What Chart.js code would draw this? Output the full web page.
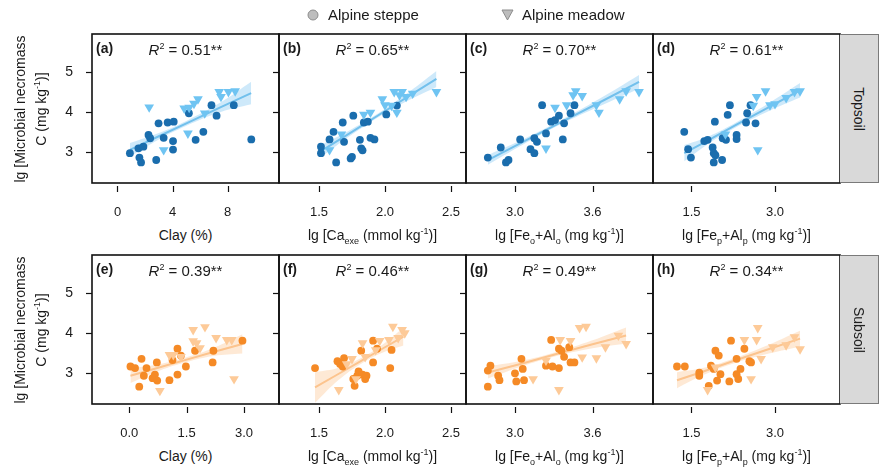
<!DOCTYPE html>
<html>
<head>
<meta charset="utf-8">
<script src="https://cdn.jsdelivr.net/npm/chart.js@4.4.0/dist/chart.umd.min.js"></script>
<style>
  body { margin: 0; background: #fff; font-family: "Liberation Sans", Arial, sans-serif; color: #1a1a1a; }
  #wrap { position: relative; width: 883px; height: 470px; overflow: hidden; }
  canvas { position: absolute; }
  .t { position: absolute; white-space: nowrap; font-size: 14px; line-height: 16px; }
  .t sub, .t sup { font-size: 9px; line-height: 0; }
  .letter { font-weight: bold; }
  .r2 { text-align: center; font-size: 15px; }
  .xt { text-align: center; }
  .ytitle { position: absolute; white-space: nowrap; font-size: 14px; line-height: 21px; text-align: center;
            transform: translate(-50%, -50%) rotate(-90deg); }
  .strip { position: absolute; background: #d9d9d9; border: 1px solid #7a7a7a; border-left: none; box-sizing: border-box; }
  .strip span { position: absolute; left: 50%; top: 50%; transform: translate(-50%, -50%) rotate(90deg); font-size: 14px; white-space: nowrap; }
</style>
</head>
<body>
<div id="wrap"></div>
<script>
// ---- data ----
// topsoil: x = clay (%), lg Ca_exe, lg (Feo+Alo), lg (Fep+Alp); y = lg microbial necromass C
const clayTopSteppe = [[0.90,2.98],[1.59,2.87],[1.71,2.75],[1.52,3.10],[1.88,3.14],[2.25,3.43],[2.37,3.35],[2.81,2.81],[2.98,3.72],[3.35,3.36],[3.64,3.74],[4.08,3.76],[4.03,3.28],[4.03,3.07],[5.18,3.97],[5.67,3.31],[6.23,3.51],[6.82,4.17],[7.19,3.91],[8.44,4.17],[9.71,3.32]];
const clayTopMeadow = [[2.30,4.12],[3.35,3.06],[5.11,3.47],[4.84,4.09],[5.20,4.11],[5.55,4.21],[5.84,4.32],[6.33,3.97],[7.38,4.50],[7.51,4.38],[8.05,4.50],[8.54,4.52]];
const caTopSteppe = [[1.515,3.14],[1.515,2.98],[1.58,3.32],[1.61,3.51],[1.63,2.75],[1.68,3.74],[1.69,3.26],[1.74,2.85],[1.75,2.89],[1.76,3.91],[1.81,3.31],[1.82,3.10],[1.83,3.05],[1.84,3.74],[1.87,3.76],[1.89,3.36],[1.92,3.32],[2.01,3.94],[2.09,4.16]];
const caTopMeadow = [[1.58,3.06],[1.67,3.45],[1.84,3.94],[1.89,3.99],[1.98,4.32],[2.00,4.17],[2.05,4.16],[2.07,4.50],[2.11,4.42],[2.13,4.50],[2.09,3.99],[2.16,4.38],[2.21,4.46],[2.39,4.50]];
const feoTopSteppe = [[2.79,2.87],[2.89,3.12],[2.93,2.75],[2.95,2.81],[3.04,3.32],[3.12,3.08],[3.15,2.98],[3.15,3.35],[3.17,3.26],[3.21,4.17],[3.24,3.47],[3.28,3.76],[3.31,3.80],[3.34,3.91],[3.37,3.32],[3.38,3.72],[3.43,3.97],[3.46,4.17]];
const feoTopMeadow = [[3.24,3.10],[3.31,4.11],[3.40,4.17],[3.45,4.42],[3.47,4.52],[3.52,4.40],[3.63,4.17],[3.65,3.99],[3.81,4.32],[3.86,4.52],[3.96,4.50]];
const fepTopSteppe = [[1.37,3.51],[1.44,3.08],[1.49,2.87],[1.73,3.28],[1.79,3.31],[1.88,3.12],[1.90,2.98],[1.92,3.76],[1.93,2.93],[1.90,2.75],[2.05,2.81],[2.06,3.35],[2.12,3.31],[2.15,3.93],[2.19,4.17],[2.31,3.43],[2.31,3.33],[2.48,3.74],[2.50,3.97],[2.56,4.17],[2.65,3.72]];
const fepTopMeadow = [[2.11,3.45],[2.61,4.16],[2.67,4.38],[2.83,4.52],[2.69,3.06],[2.91,4.17],[3.00,4.20],[3.20,4.35],[3.35,4.50],[3.45,4.52]];

// subsoil
const claySubSteppe = [[0.03,3.17],[0.15,3.13],[0.32,3.36],[0.26,2.67],[0.45,3.13],[0.38,2.94],[0.61,2.88],[0.67,2.97],[0.72,3.27],[0.73,2.82],[1.05,2.83],[1.13,3.33],[1.26,2.97],[1.26,3.61],[1.35,3.44],[1.48,3.17],[1.72,3.56],[2.18,3.27],[2.20,3.56],[2.96,3.81]];
const claySubMeadow = [[0.80,2.57],[1.05,3.46],[1.15,3.46],[1.35,3.41],[1.67,4.08],[1.67,3.80],[1.76,3.75],[1.85,3.63],[1.98,4.15],[2.27,3.88],[2.55,3.83],[2.68,3.83],[2.74,2.86]];
const caSubSteppe = [[1.47,3.13],[1.64,3.30],[1.66,3.23],[1.68,3.17],[1.69,3.38],[1.76,2.86],[1.77,2.69],[1.79,2.94],[1.80,3.05],[1.82,3.56],[1.83,2.97],[1.85,2.86],[1.86,2.94],[1.91,3.81],[1.91,3.27],[1.94,3.61],[2.04,3.13],[2.05,3.58]];
const caSubMeadow = [[1.65,2.59],[1.71,3.23],[1.75,3.36],[1.78,2.86],[1.83,3.75],[1.85,3.41],[1.93,3.58],[1.96,3.81],[2.03,3.83],[2.06,4.16],[2.10,3.88],[2.13,4.08],[2.15,4.00]];
const feoSubSteppe = [[2.79,2.67],[2.79,3.07],[2.81,3.19],[2.87,2.94],[2.88,2.83],[3.00,3.00],[3.01,2.80],[3.05,3.36],[3.07,2.83],[3.06,3.11],[3.24,3.19],[3.29,3.17],[3.28,3.83],[3.34,3.61],[3.34,3.13],[3.36,3.56],[3.38,3.41],[3.43,3.27],[3.42,3.65],[3.46,3.27]];
const feoSubMeadow = [[3.14,2.86],[3.24,3.32],[3.34,2.59],[3.35,3.83],[3.43,3.81],[3.50,4.13],[3.55,4.16],[3.52,3.40],[3.63,3.38],[3.70,3.65],[3.80,3.94],[3.86,3.73]];
const fepSubSteppe = [[1.24,3.17],[1.38,3.17],[1.64,3.02],[1.64,2.94],[1.81,2.69],[1.85,3.19],[1.90,3.11],[1.93,3.56],[1.96,2.82],[1.99,3.44],[2.02,2.98],[2.18,2.80],[2.21,3.81],[2.31,3.36],[2.31,2.98],[2.34,2.86],[2.38,3.11],[2.45,3.61],[2.54,3.30],[2.57,3.27]];
const fepSubMeadow = [[1.79,2.59],[1.93,3.15],[2.45,3.83],[2.57,2.86],[2.67,3.83],[2.69,4.13],[2.75,3.36],[2.96,3.65],[3.20,3.70],[3.35,3.90],[3.45,3.60]];

// fitted lines with 95% band: [x, lower, fit, upper]
const bandA = [[0.9,2.89,3.06,3.23],[3.0,3.32,3.40,3.48],[5.0,3.66,3.72,3.78],[7.5,4.00,4.12,4.24],[9.7,4.19,4.47,4.75]];
const bandB = [[1.515,2.88,3.03,3.18],[1.75,3.44,3.51,3.58],[1.95,3.87,3.92,3.97],[2.15,4.24,4.33,4.42],[2.39,4.62,4.82,5.02]];
const bandC = [[2.79,2.69,2.81,2.93],[3.1,3.26,3.32,3.38],[3.35,3.69,3.74,3.79],[3.65,4.14,4.23,4.32],[3.96,4.58,4.75,4.92]];
const bandD = [[1.37,2.78,2.98,3.18],[1.8,3.21,3.30,3.39],[2.3,3.62,3.68,3.74],[2.9,4.03,4.13,4.23],[3.45,4.36,4.54,4.72]];
const bandE = [[0.03,2.76,2.94,3.12],[0.8,3.07,3.15,3.23],[1.5,3.28,3.34,3.40],[2.2,3.43,3.53,3.63],[2.96,3.49,3.73,3.97]];
const bandF = [[1.47,2.27,2.65,3.03],[1.65,2.84,2.99,3.14],[1.82,3.24,3.31,3.38],[1.98,3.51,3.61,3.71],[2.14,3.69,3.91,4.13]];
const bandG = [[2.79,2.87,3.02,3.17],[3.05,3.17,3.24,3.31],[3.3,3.41,3.46,3.51],[3.6,3.62,3.72,3.82],[3.86,3.74,3.94,4.14]];
const bandH = [[1.24,2.63,2.83,3.03],[1.7,2.95,3.04,3.13],[2.2,3.22,3.28,3.34],[2.8,3.46,3.56,3.66],[3.45,3.66,3.86,4.06]];

const panelLetters = ['(a)', '(b)', '(c)', '(d)', '(e)', '(f)', '(g)', '(h)'];
const r2Values = ['0.51', '0.65', '0.70', '0.61', '0.39', '0.46', '0.49', '0.34'];
const xTickValues = [[0, 4, 8], [1.5, 2.0, 2.5], [3.0, 3.6], [1.5, 3.0], [0.0, 1.5, 3.0], [1.5, 2.0, 2.5], [3.0, 3.6], [1.5, 3.0]];
const xTickLabels = [['0', '4', '8'], ['1.5', '2.0', '2.5'], ['3.0', '3.6'], ['1.5', '3.0'], ['0.0', '1.5', '3.0'], ['1.5', '2.0', '2.5'], ['3.0', '3.6'], ['1.5', '3.0']];
const xLimits = [[-1.85, 11.72], [1.197, 2.614], [2.621, 4.068], [0.809, 4.167], [-0.976, 3.916], [1.197, 2.614], [2.621, 4.068], [0.809, 4.167]];
const yTickValues = [3, 4, 5];
const yLimits = [2.24, 5.935];
const xTitles = [
  'Clay (%)',
  'lg [Ca<sub>exe</sub> (mmol kg<sup>-1</sup>)]',
  'lg [Fe<sub>o</sub>+Al<sub>o</sub> (mg kg<sup>-1</sup>)]',
  'lg [Fe<sub>p</sub>+Al<sub>p</sub> (mg kg<sup>-1</sup>)]'
];
const rowNames = ['Topsoil', 'Subsoil'];

const steppeSets = [clayTopSteppe, caTopSteppe, feoTopSteppe, fepTopSteppe, claySubSteppe, caSubSteppe, feoSubSteppe, fepSubSteppe];
const meadowSets = [clayTopMeadow, caTopMeadow, feoTopMeadow, fepTopMeadow, claySubMeadow, caSubMeadow, feoSubMeadow, fepSubMeadow];
const bands = [bandA, bandB, bandC, bandD, bandE, bandF, bandG, bandH];

// ---- layout / style ----
const colLeft = [92, 279, 466, 653];
const colW = 187;
const rowTop = [34, 255];
const rowH = 149;
const AXW = 45, AXH = 40, PAD = 4;
const palette = [
  { steppe: '#1a6dad', meadow: '#6fc4f2', line: '#72c0ec', band: 'rgba(125,198,242,0.38)' },
  { steppe: '#f58a26', meadow: '#fdca98', line: '#fcc48e', band: 'rgba(253,203,155,0.42)' }
];
const tickFont = { family: 'Liberation Sans, Arial, sans-serif', size: 13 };

const wrap = document.getElementById('wrap');
function addText(cls, html, css) {
  const d = document.createElement('div');
  d.className = cls;
  d.innerHTML = html;
  Object.assign(d.style, css);
  wrap.appendChild(d);
  return d;
}

// frame + outward tick marks
const frameTicks = {
  id: 'frameTicks',
  afterDraw(chart) {
    const { ctx, chartArea: a, scales: { x, y } } = chart;
    ctx.save();
    ctx.strokeStyle = '#111';
    ctx.lineWidth = 1.6;
    ctx.strokeRect(a.left, a.top, a.right - a.left, a.bottom - a.top);
    ctx.lineWidth = 1.2;
    x.ticks.forEach(t => {
      const px = Math.round(x.getPixelForValue(t.value)) + 0.5;
      ctx.beginPath(); ctx.moveTo(px, a.bottom + 3); ctx.lineTo(px, a.bottom + 9); ctx.stroke();
    });
    y.ticks.forEach(t => {
      const py = Math.round(y.getPixelForValue(t.value)) + 0.5;
      ctx.beginPath(); ctx.moveTo(a.left - 6, py); ctx.lineTo(a.left, py); ctx.stroke();
    });
    ctx.restore();
  }
};

const toXY = arr => arr.map(p => ({ x: p[0], y: p[1] }));

for (let p = 0; p < 8; p++) {
  const row = Math.floor(p / 4), col = p % 4;
  const c = palette[row];
  const band = bands[p];
  const cv = document.createElement('canvas');
  cv.width = colW + AXW + PAD;
  cv.height = rowH + PAD + AXH;
  cv.style.left = (colLeft[col] - AXW) + 'px';
  cv.style.top = (rowTop[row] - PAD) + 'px';
  wrap.appendChild(cv);

  new Chart(cv, {
    type: 'scatter',
    data: {
      datasets: [
        { type: 'line', data: band.map(r => ({ x: r[0], y: r[1] })), borderWidth: 0, pointRadius: 0, tension: 0.4, fill: false, order: 5 },
        { type: 'line', data: band.map(r => ({ x: r[0], y: r[3] })), borderWidth: 0, pointRadius: 0, tension: 0.4, fill: '-1', backgroundColor: c.band, order: 5 },
        { type: 'line', data: band.map(r => ({ x: r[0], y: r[2] })), borderColor: c.line, borderWidth: 2, pointRadius: 0, fill: false, order: 4 },
        { data: toXY(steppeSets[p]), pointStyle: 'circle', pointRadius: 3.9, backgroundColor: c.steppe, pointBackgroundColor: c.steppe, pointBorderWidth: 0, borderWidth: 0, order: 2 },
        { data: toXY(meadowSets[p]), pointStyle: 'triangle', pointRotation: 180, pointRadius: 5.6, backgroundColor: c.meadow, pointBackgroundColor: c.meadow, pointBorderWidth: 0, borderWidth: 0, order: 1 }
      ]
    },
    options: {
      responsive: false,
      animation: false,
      events: [],
      layout: { autoPadding: false, padding: { top: PAD, right: PAD, left: 0, bottom: 0 } },
      plugins: { legend: { display: false }, tooltip: { enabled: false } },
      scales: {
        x: {
          type: 'linear', min: xLimits[p][0], max: xLimits[p][1],
          afterBuildTicks: s => { s.ticks = xTickValues[p].map(v => ({ value: v })); },
          afterFit: s => { s.height = AXH; s.paddingLeft = 0; s.paddingRight = 0; },
          grid: { display: false }, border: { display: false },
          ticks: { padding: 14, color: '#1a1a1a', font: tickFont, maxRotation: 0, autoSkip: false,
                   callback: (v, i) => xTickLabels[p][i] }
        },
        y: {
          type: 'linear', min: yLimits[0], max: yLimits[1],
          afterBuildTicks: s => { s.ticks = yTickValues.map(v => ({ value: v })); },
          afterFit: s => { s.width = AXW; s.paddingTop = 0; s.paddingBottom = 0; },
          grid: { display: false }, border: { display: false },
          ticks: { padding: 11, color: '#1a1a1a', font: { ...tickFont, size: 14 },
                   callback: v => col === 0 ? String(v) : '' }
        }
      }
    },
    plugins: [frameTicks]
  });

  addText('t letter', panelLetters[p], { left: (colLeft[col] + 4) + 'px', top: (rowTop[row] + 6) + 'px' });
  addText('t r2', '<i>R</i><sup>2</sup> = ' + r2Values[p] + '**', { left: colLeft[col] + 'px', width: colW + 'px', top: (rowTop[row] + 8) + 'px' });
  addText('t xt', xTitles[col], { left: colLeft[col] + 'px', width: colW + 'px', top: (rowTop[row] + rowH + 44) + 'px' });
}

for (let r = 0; r < 2; r++) {
  const cy = rowTop[r] + rowH / 2;
  addText('ytitle', 'lg [Microbial necromass<br>C (mg kg<sup style="font-size:9px;line-height:0">-1</sup>)]', { left: '31px', top: cy + 'px' });
  const s = document.createElement('div');
  s.className = 'strip';
  Object.assign(s.style, { left: (colLeft[3] + colW) + 'px', top: rowTop[r] + 'px', width: '39px', height: rowH + 'px' });
  s.innerHTML = '<span>' + rowNames[r] + '</span>';
  wrap.appendChild(s);
}

// legend
addText('t', '<svg width="12" height="12"><circle cx="6" cy="6" r="5" fill="#bdbdbd" stroke="#8c8c8c" stroke-width="1"/></svg>', { left: '307px', top: '8px' });
addText('t', 'Alpine steppe', { left: '328px', top: '7px', fontSize: '15px' });
addText('t', '<svg width="13" height="12"><polygon points="1,1 12,1 6.5,11" fill="#bdbdbd" stroke="#8c8c8c" stroke-width="1"/></svg>', { left: '501px', top: '8px' });
addText('t', 'Alpine meadow', { left: '522px', top: '7px', fontSize: '15px' });
</script>
</body>
</html>
